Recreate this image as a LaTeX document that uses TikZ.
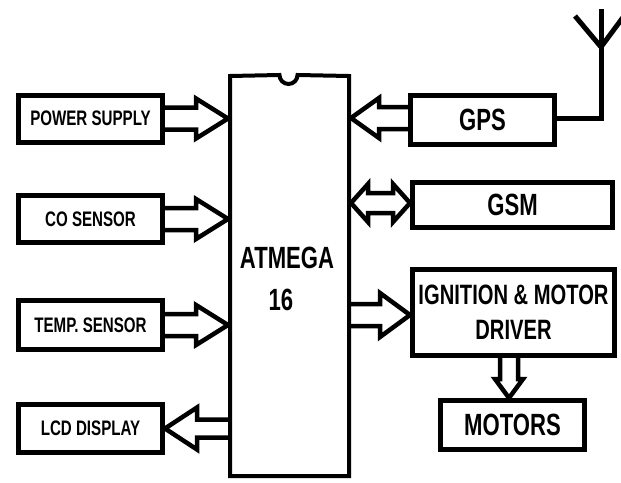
\documentclass[tikz,border=0pt]{standalone}
\usepackage{fontspec}
\setmainfont{Liberation Sans}[FakeStretch=0.72]
\usetikzlibrary{calc}
\tikzset{
  box/.style={draw, line width=5pt, inner sep=0pt, outer sep=2.5pt, font=\bfseries\fontsize{21}{24}\selectfont},
  bigbox/.style={box, font=\bfseries\fontsize{30.7}{34}\selectfont},
  arr/.style={line width=4.5pt, line join=miter, miter limit=4},
  chipline/.style={line width=4pt},
  antline/.style={line width=5pt},
  big/.style={font=\bfseries\fontsize{30.7}{34}\selectfont, inner sep=0pt},
}
% #1 tail, #2 tip, #3 head length, #4 shaft half width, #5 head half width
\newcommand\blockarr[5]{%
  \coordinate (hb) at ($(#2)!#3!(#1)$);
  \draw[arr] ($(#1)!#4!90:(#2)$) -- ($(hb)!#4!90:(#2)$) -- ($(hb)!#5!90:(#2)$)
    -- (#2) -- ($(hb)!#5!-90:(#2)$) -- ($(hb)!#4!-90:(#2)$) -- ($(#1)!#4!-90:(#2)$);
}
% double arrow: #1,#2 tips, #3 head length, #4 shaft half, #5 head half
\newcommand\dblarr[5]{%
  \coordinate (ha) at ($(#1)!#3!(#2)$);
  \coordinate (hc) at ($(#2)!#3!(#1)$);
  \draw[arr] (#1) -- ($(ha)!#5!90:(#2)$) -- ($(ha)!#4!90:(#2)$) -- ($(hc)!#4!-90:(#1)$)
    -- ($(hc)!#5!-90:(#1)$) -- (#2) -- ($(hc)!#5!90:(#1)$) -- ($(hc)!#4!90:(#1)$)
    -- ($(ha)!#4!-90:(#2)$) -- ($(ha)!#5!-90:(#2)$) -- cycle;
}
\begin{document}
\begin{tikzpicture}[x=1pt,y=1pt]
\useasboundingbox (0,0) rectangle (621,-482);
% chip
\node[minimum width=123pt, minimum height=404pt, inner sep=0pt, outer sep=0pt] (chip) at (289.5,-276) {};
\draw[chipline] ($(chip.north west)+(2,-2)$) -- (279.5,-75) arc[start angle=180,end angle=360,radius=9]
  -- ($(chip.north east)+(-2,-2)$) -- ($(chip.south east)+(-2,2)$) -- ($(chip.south west)+(2,2)$) -- cycle;
\node[big, anchor=base] (lab1) at (287,-268) {ATMEGA};
\node[big, anchor=base] (lab2) at (281,-310) {16};
% left boxes
\node[box, minimum width=144pt, minimum height=47pt] (ps) at (90.5,-118.5) {POWER SUPPLY};
\node[box, minimum width=144pt, minimum height=47pt] (co) at (90.5,-219) {CO SENSOR};
\node[box, minimum width=144pt, minimum height=49pt] (temp) at (90.5,-325) {TEMP. SENSOR};
\node[box, minimum width=144pt, minimum height=48pt] (lcd) at (90.5,-428.5) {LCD DISPLAY};
% right boxes
\node[bigbox, minimum width=144pt, minimum height=49pt] (gps) at (482.5,-119.5) {GPS};
\node[bigbox, minimum width=200pt, minimum height=45pt] (gsm) at (512.5,-205) {GSM};
\node[bigbox, minimum width=202pt, minimum height=86pt, align=center,
  font=\bfseries\fontsize{28}{35}\selectfont] (ign) at (513.5,-312.5) {IGNITION \& MOTOR\\DRIVER};
\node[bigbox, minimum width=144pt, minimum height=49pt] (mot) at (512.5,-425) {MOTORS};
% arrows left
\coordinate (t1) at (chip.west |- ps.east);
\blockarr{ps.east}{t1}{32pt}{11pt}{20pt}
\coordinate (t2) at (chip.west |- co.east);
\blockarr{co.east}{t2}{32pt}{11pt}{20pt}
\coordinate (t3) at (chip.west |- temp.east);
\blockarr{temp.east}{t3}{32pt}{11pt}{20pt}
\coordinate (t4) at (chip.west |- lcd.east);
\blockarr{t4}{lcd.east}{32pt}{9pt}{21pt}
% arrows right
\coordinate (t5) at (chip.east |- 0,-118);
\coordinate (s5) at (gps.west |- 0,-118);
\blockarr{s5}{t5}{28pt}{11pt}{20pt}
\coordinate (t6) at (chip.east |- 0,-203);
\coordinate (s6) at (gsm.west |- 0,-203);
\dblarr{t6}{s6}{17pt}{10pt}{19pt}
\coordinate (t7) at (chip.east |- 0,-315);
\coordinate (s7) at (ign.west |- 0,-315);
\blockarr{t7}{s7}{30pt}{11pt}{22pt}
\coordinate (t8) at (509,0 |- ign.south);
\coordinate (s8) at (509,0 |- mot.north);
\blockarr{t8}{s8}{19pt}{9pt}{14pt}
% antenna
\coordinate (g1) at (gps.east |- 0,-118);
\coordinate (a1) at (601,-118);
\coordinate (a2) at (601,-47);
\coordinate (a3) at (601,-9);
\coordinate (a4) at (575,-16);
\coordinate (a5) at (624,-16);
\draw[antline] (g1) -- (a1) -- (a3);
\draw[antline] (a4) -- (a2) -- (a5);
\end{tikzpicture}
\end{document}
